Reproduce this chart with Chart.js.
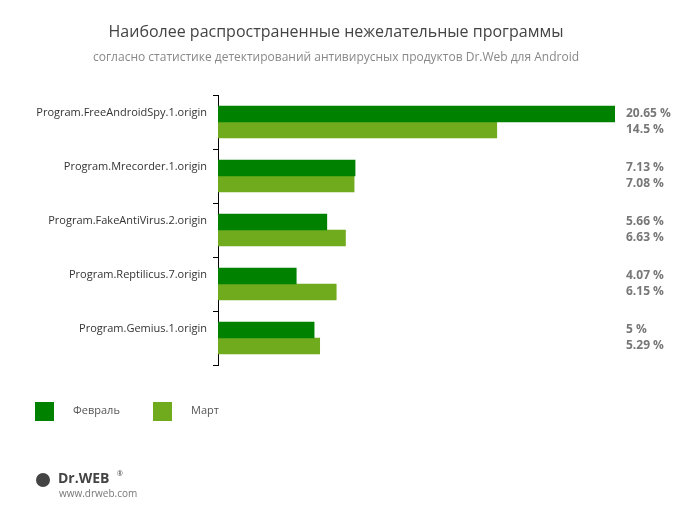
<!DOCTYPE html>
<html><head><meta charset="utf-8">
<script src="https://cdn.jsdelivr.net/npm/chart.js@4"></script>
<style>body{margin:0;background:#fff}#w{width:673px;height:515px}</style></head>
<body><div id="w"><canvas id="c"></canvas></div>
<script>
const categories=["Program.FreeAndroidSpy.1.origin","Program.Mrecorder.1.origin","Program.FakeAntiVirus.2.origin","Program.Reptilicus.7.origin","Program.Gemius.1.origin"];
const febValues=[20.65,7.13,5.66,4.07,5];
const marValues=[14.5,7.08,6.63,6.15,5.29];
const seriesNames=["Февраль","Март"];
const titleText="Наиболее распространенные нежелательные программы";
const subtitleText="согласно статистике детектирований антивирусных продуктов Dr.Web для Android";
const F="'Open Sans', 'DejaVu Sans', sans-serif";
const colors=["#008200","#6fab1c"];
const deco={id:'deco',afterDatasetsDraw(ch){
 const c=ch.ctx;c.save();
 c.textAlign='center';c.textBaseline='middle';
 c.fillStyle='#444';c.font='16px '+F;c.fillText(titleText,336,32);
 c.fillStyle='#888';c.font='12px '+F;c.fillText(subtitleText,336,58);
 c.textAlign='left';c.font='bold 12px '+F;c.fillStyle='#777';
 ch.data.datasets.forEach((ds,i)=>{ch.getDatasetMeta(i).data.forEach((b,j)=>{
  c.fillText(ds.data[j]+' %',626,b.y);});});
 c.font='11px '+F;
 [[35,73],[153,191]].forEach((p,i)=>{c.fillStyle=colors[i];c.fillRect(p[0],402,19,19);
  c.fillStyle='#555';c.fillText(seriesNames[i],p[1],411);});
 c.font='bold 14px '+F;c.fillStyle='#444';c.fillText('Dr.WEB',58,479);
 c.font='7px '+F;c.fillText('®',117,474);
 c.font='10px '+F;c.fillStyle='#777';c.fillText('www.drweb.com',59,494);
 c.fillStyle='#444';c.beginPath();c.arc(43,480,7,0,Math.PI*2);c.fill();
 c.restore();}};
new Chart(document.getElementById('c'),{type:'bar',
 data:{labels:categories,datasets:[
  {label:seriesNames[0],data:febValues,backgroundColor:colors[0],barThickness:16},
  {label:seriesNames[1],data:marValues,backgroundColor:colors[1],barThickness:16}]},
 options:{indexAxis:'y',responsive:true,maintainAspectRatio:false,animation:false,
  layout:{padding:{top:95,bottom:150,right:58,left:0}},
  datasets:{bar:{categoryPercentage:0.7,barPercentage:1}},
  plugins:{legend:{display:false},tooltip:{enabled:false}},
  scales:{x:{display:false,min:0,max:20.65},
   y:{afterFit(a){a.width=218;},border:{color:'#000'},
    grid:{offset:true,drawOnChartArea:false,tickLength:5,color:'#000'},
    ticks:{color:'#333',font:{family:F,size:11},padding:6,labelOffset:-9,
     callback(v,i){return categories[i];}}}}},
 plugins:[deco]});
</script></body></html>
